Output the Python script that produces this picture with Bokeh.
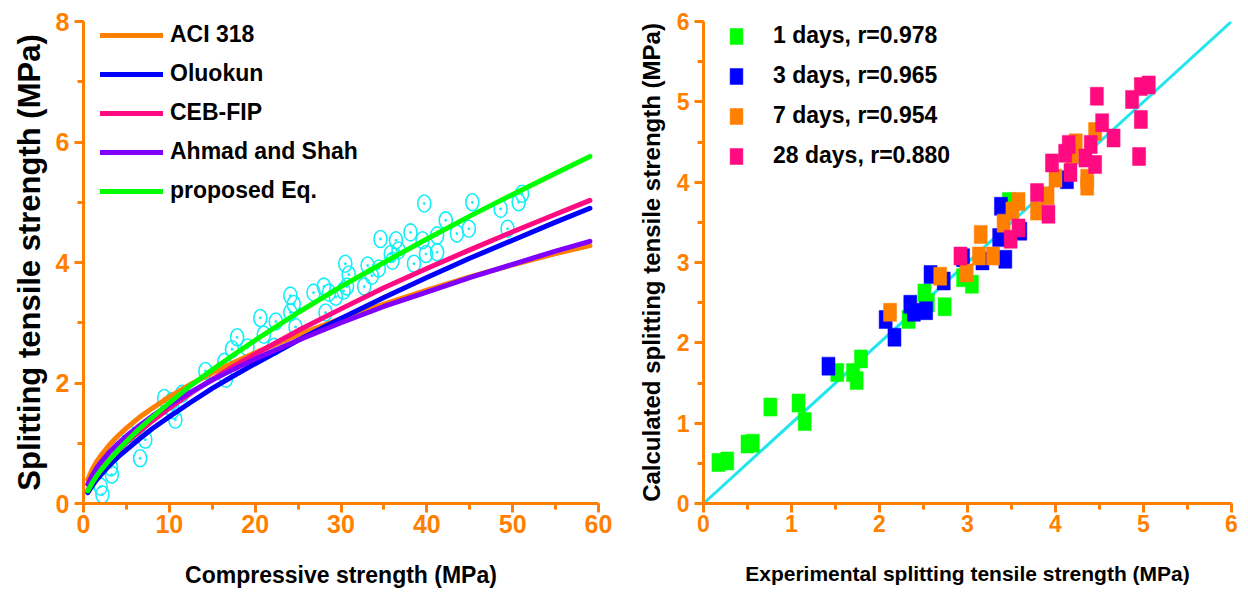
from bokeh.plotting import figure
from bokeh.models import Range1d, SingleIntervalTicker, Legend, LegendItem
from bokeh.layouts import row
from bokeh.embed import file_html
from bokeh.resources import INLINE

# ---------------- data: left panel ----------------
fc_obs = [2.2, 2.0, 3.3, 3.2, 6.6, 7.2, 5.3, 9.4, 10.3, 10.7, 10.4, 11.5, 14.2, 16.4, 16.6,
          17.3, 17.9, 19.1, 20.6, 21.0, 22.2, 22.4, 24.1, 24.5, 24.1, 24.7, 26.8, 28.0,
          28.6, 28.2, 29.4, 30.5, 30.9, 30.3, 30.7, 32.7, 33.1, 33.6, 34.4, 34.6, 36.4,
          35.8, 36.7, 36.0, 38.1, 38.5, 39.5, 39.7, 39.9, 41.2, 41.2, 42.2, 43.5, 44.9,
          45.3, 48.6, 49.4, 50.7, 51.1, 9.8]
fsp_obs = [0.15, 0.28, 0.48, 0.60, 0.75, 1.06, 1.15, 1.75, 1.70, 1.39, 1.55, 1.82, 2.20, 2.35, 2.07,
           2.56, 2.76, 2.59, 3.08, 2.80, 2.60, 3.02, 3.45, 3.31, 3.17, 2.93, 3.50, 3.60,
           3.50, 3.17, 3.43, 3.98, 3.80, 3.53, 3.60, 3.60, 3.95, 3.78, 3.90, 4.39, 4.37,
           4.14, 4.20, 4.03, 4.50, 3.98, 4.37, 4.98, 4.14, 4.45, 4.17, 4.70, 4.48, 4.56,
           5.00, 4.89, 4.56, 5.00, 5.14, 1.62]

fc_curve = [0.5, 1, 1.5, 2, 3, 4, 5, 6.5, 8, 10, 12.5, 15, 17.5, 20, 25, 30, 35, 40, 45, 50, 55, 59]
aci_318 = [0.40, 0.56, 0.69, 0.79, 0.97, 1.12, 1.25, 1.43, 1.58, 1.77, 1.98, 2.17, 2.34, 2.50,
           2.80, 3.07, 3.31, 3.54, 3.76, 3.96, 4.15, 4.28]
oluokun = [0.18, 0.29, 0.39, 0.47, 0.63, 0.77, 0.89, 1.07, 1.24, 1.44, 1.68, 1.91, 2.12, 2.32,
           2.71, 3.07, 3.42, 3.75, 4.07, 4.37, 4.67, 4.90]
ceb_fip = [0.22, 0.35, 0.46, 0.55, 0.72, 0.87, 1.01, 1.19, 1.37, 1.58, 1.83, 2.06, 2.28, 2.48,
           2.87, 3.23, 3.58, 3.90, 4.21, 4.51, 4.80, 5.03]
ahmad_shah = [0.32, 0.46, 0.58, 0.68, 0.85, 0.99, 1.12, 1.29, 1.45, 1.64, 1.85, 2.05, 2.23, 2.40,
              2.71, 3.00, 3.27, 3.51, 3.75, 3.97, 4.19, 4.35]
proposed = [0.21, 0.34, 0.45, 0.55, 0.72, 0.88, 1.03, 1.24, 1.43, 1.67, 1.96, 2.22, 2.47, 2.71,
            3.17, 3.60, 4.00, 4.39, 4.77, 5.13, 5.48, 5.76]

curve_names = ["ACI 318", "Oluokun", "CEB-FIP", "Ahmad and Shah", "proposed Eq."]

# ---------------- data: right panel ----------------
exp_1d = [0.17, 0.27, 0.50, 0.56, 0.76, 1.08, 1.15, 1.52, 1.70, 1.74, 1.79, 2.33, 2.51, 2.74,
          3.05, 2.95, 2.55, 3.47]
cal_1d = [0.51, 0.53, 0.74, 0.75, 1.20, 1.25, 1.02, 1.63, 1.63, 1.53, 1.80, 2.29, 2.62, 2.45,
          2.73, 2.81, 2.50, 3.76]
exp_3d = [1.42, 2.07, 2.17, 2.35, 2.39, 2.53, 2.58, 2.73, 2.95, 3.17, 3.36, 3.38, 3.43, 3.60, 4.13]
cal_3d = [1.71, 2.29, 2.07, 2.48, 2.38, 2.40, 2.85, 2.77, 3.06, 3.02, 3.31, 3.70, 3.04, 3.39, 4.03]
exp_7d = [2.12, 2.69, 2.99, 3.13, 3.29, 3.15, 3.41, 3.51, 3.58, 3.79, 3.91, 4.00, 4.23, 4.36,
          4.36, 4.45, 4.19]
cal_7d = [2.38, 2.83, 2.87, 3.08, 3.08, 3.35, 3.49, 3.64, 3.76, 3.64, 3.83, 4.05, 4.49, 3.95,
          4.05, 4.63, 4.34]
exp_28d = [2.92, 3.49, 3.58, 3.79, 3.92, 3.96, 4.11, 4.15, 4.17, 4.34, 4.40, 4.45, 4.47, 4.53,
           4.66, 4.87, 4.97, 4.95, 4.97, 5.06]
cal_28d = [3.08, 3.29, 3.43, 3.87, 3.60, 4.24, 4.36, 4.47, 4.12, 4.30, 4.47, 4.22, 5.07, 4.74,
           4.55, 5.03, 4.78, 4.32, 5.19, 5.21]
age_labels = ["1 days, r=0.978", "3 days, r=0.965", "7 days, r=0.954", "28 days, r=0.880"]
line_xy = [0, 6]

ORANGE = "#FF8000"
FONT = "Liberation Sans"


def style_axes(p, tick_size):
    for ax in (p.xaxis[0], p.yaxis[0]):
        ax.axis_line_color = ORANGE
        ax.axis_line_width = 3
        ax.major_tick_line_color = ORANGE
        ax.minor_tick_line_color = ORANGE
        ax.major_tick_line_width = 3
        ax.minor_tick_line_width = 3
        ax.major_tick_out = 9
        ax.major_tick_in = 0
        ax.minor_tick_out = 6
        ax.minor_tick_in = 0
        ax.major_label_text_color = ORANGE
        ax.major_label_text_font = FONT
        ax.major_label_text_font_style = "bold"
        ax.major_label_text_font_size = tick_size
        ax.axis_label_text_color = "black"
        ax.axis_label_text_font = FONT
        ax.axis_label_text_font_style = "bold"
    p.xgrid.visible = False
    p.ygrid.visible = False
    p.outline_line_color = None


# ---------------- left figure ----------------
p1 = figure(width=620, height=607, output_backend="svg", toolbar_location=None,
            x_range=Range1d(0, 60), y_range=Range1d(0, 8),
            min_border_left=83, min_border_right=22, min_border_top=21, min_border_bottom=104)
p1.xaxis.ticker = SingleIntervalTicker(interval=10, num_minor_ticks=2)
p1.yaxis.ticker = SingleIntervalTicker(interval=2, num_minor_ticks=2)
style_axes(p1, "25px")
p1.xaxis.axis_label = "Compressive strength (MPa)"
p1.yaxis.axis_label = "Splitting tensile strength (MPa)"
p1.xaxis.axis_label_text_font_size = "23px"
p1.yaxis.axis_label_text_font_size = "31px"
p1.xaxis.major_label_standoff = 2
p1.yaxis.major_label_standoff = 5
p1.xaxis.axis_label_standoff = 26
p1.yaxis.axis_label_standoff = 6

CYAN = "#10EEFA"
p1.ellipse(fc_obs, fsp_obs, width=13, height=17, width_units="screen", height_units="screen",
           fill_color=None, line_color=CYAN, line_width=1.6)
p1.scatter(fc_obs, fsp_obs, size=2, marker="circle", color=CYAN)

curve_colors = [ORANGE, "#0000FF", "#FF0A80", "#8000FF", "#00FF00"]
curve_data = [aci_318, oluokun, ceb_fip, ahmad_shah, proposed]
items1 = []
for name, col, ys in zip(curve_names, curve_colors, curve_data):
    r = p1.line(fc_curve, ys, line_color=col, line_width=5, line_cap="round", line_join="round")
    items1.append(LegendItem(label=name, renderers=[r]))

leg1 = Legend(items=items1, location=(17, 299), padding=0, margin=0, spacing=12,
              glyph_width=63, glyph_height=26, label_height=26, label_standoff=7,
              label_text_font=FONT, label_text_font_style="bold", label_text_font_size="23px",
              label_text_color="black",
              background_fill_alpha=0, border_line_color=None)
p1.add_layout(leg1)

# ---------------- right figure ----------------
p2 = figure(width=628, height=607, output_backend="svg", toolbar_location=None,
            x_range=Range1d(0, 6), y_range=Range1d(0, 6),
            min_border_left=83, min_border_right=17, min_border_top=21, min_border_bottom=104)
p2.xaxis.ticker = SingleIntervalTicker(interval=1, num_minor_ticks=2)
p2.yaxis.ticker = SingleIntervalTicker(interval=1, num_minor_ticks=2)
style_axes(p2, "23px")
p2.xaxis.axis_label = "Experimental splitting tensile strength (MPa)"
p2.yaxis.axis_label = "Calculated splitting tensile strength (MPa)"
p2.xaxis.axis_label_text_font_size = "21px"
p2.yaxis.axis_label_text_font_size = "24px"
p2.xaxis.major_label_standoff = 2
p2.yaxis.major_label_standoff = 5
p2.xaxis.axis_label_standoff = 27
p2.yaxis.axis_label_standoff = 9

p2.line(line_xy, line_xy, line_color="#22E5EE", line_width=3)

sq_colors = ["#00FF00", "#0000FF", ORANGE, "#FF0A80"]
sq_data = [(exp_1d, cal_1d), (exp_3d, cal_3d), (exp_7d, cal_7d), (exp_28d, cal_28d)]
items2 = []
for lab, col, (xs, ys) in zip(age_labels, sq_colors, sq_data):
    r = p2.rect(xs, ys, width=13, height=18, width_units="screen", height_units="screen",
                fill_color=col, line_color=col, line_alpha=0.5, line_width=1)
    items2.append(LegendItem(label=lab, renderers=[r]))

leg2 = Legend(items=items2, location=(25, 334), padding=0, margin=0, spacing=13,
              glyph_width=16, glyph_height=20, label_height=26, label_standoff=29,
              label_text_font=FONT, label_text_font_style="bold", label_text_font_size="23px",
              label_text_color="black",
              background_fill_alpha=0, border_line_color=None)
p2.add_layout(leg2)

layout = row(p1, p2)
open("out.html", "w").write(file_html(layout, INLINE))
